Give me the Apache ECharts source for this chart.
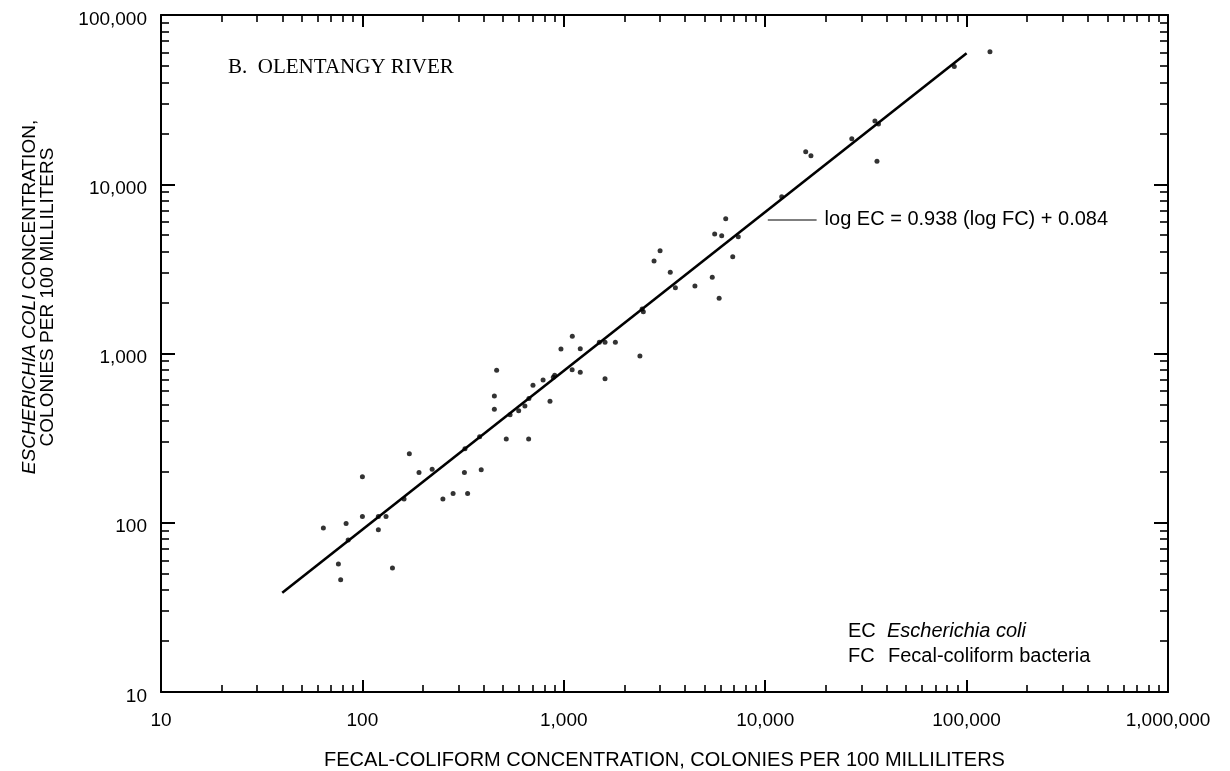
<!DOCTYPE html>
<html>
<head>
<meta charset="utf-8">
<script src="https://cdn.jsdelivr.net/npm/echarts@6/dist/echarts.min.js"></script>
<style>
html,body{margin:0;padding:0;background:#fff;}
#chart{width:1230px;height:771px;}
</style>
</head>
<body>
<div id="chart"></div>
<script>
// Fecal-coliform (x) and E. coli (y) concentrations, colonies per 100 mL
const fcValues = [64, 83, 85, 76, 78, 100, 100, 120, 120, 131, 141, 161, 171, 191, 222, 251, 282, 333, 321, 323,
  389, 382, 452, 518, 452, 464, 541, 597, 641, 671, 669, 703, 789, 854, 887, 901, 968, 1102, 1100, 1207,
  1207, 1501, 1602, 1803, 1602, 2388, 2482, 2450, 2806, 3006, 3378, 3581, 4478, 5459, 5906, 6899, 7350, 5612, 6081, 6368,
  12080, 15890, 16870, 35890, 26910, 35060, 36500, 86860, 130600];
const ecValues = [93, 99, 79, 57, 46, 187, 109, 109, 91, 109, 54, 138, 256, 198, 207, 138, 149, 149, 198, 274,
  206, 322, 468, 313, 561, 796, 435, 459, 490, 543, 313, 649, 697, 522, 723, 743, 1064, 1265, 802, 774,
  1067, 1164, 1164, 1164, 709, 966, 1767, 1833, 3524, 4045, 3018, 2448, 2507, 2818, 2118, 3733, 4894, 5078, 4963, 6262,
  8435, 15560, 14750, 13680, 18580, 23660, 22700, 49550, 60700];

// Regression line: log EC = 0.938 (log FC) + 0.084
const fitFC = [40, 100000];
const fitEC = [38.6, 59400];
// Leader line to equation label
const leaderFC = [10300, 18000];
const leaderEC = [6150, 6150];

const xTickLabels = [10, 100, 1000, 10000, 100000, 1000000];
const yTickLabels = [10, 100, 1000, 10000, 100000];
const minorSteps = [2, 3, 4, 5, 6, 7, 8, 9];

const equationText = 'log EC = 0.938 (log FC) + 0.084';
const panelTitle = 'B.  OLENTANGY RIVER';
const xTitle = 'FECAL-COLIFORM CONCENTRATION, COLONIES PER 100 MILLILITERS';

function minorTicks(decades) {
  const out = [];
  for (let i = 0; i < decades.length - 1; i++) {
    minorSteps.forEach(s => out.push(Math.log10(decades[i] * s)));
  }
  return out;
}
const fmt = v => String(Math.round(v)).replace(/\B(?=(\d{3})+(?!\d))/g, ',');

const FONT = "'Liberation Sans', Arial, Helvetica, sans-serif";
const SERIF = "'Liberation Serif', 'Times New Roman', serif";
const black = '#000';
const lineW = 2;

function majorAxis(min, max, position, showLabel, tickLen, labelOpts, extra) {
  return Object.assign({
    type: 'log', logBase: 10, min: min, max: max, position: position,
    axisLine: {show: true, onZero: false, lineStyle: {color: black, width: lineW}},
    axisTick: {show: true, inside: true, length: tickLen, lineStyle: {color: black, width: 2}},
    axisLabel: Object.assign({show: showLabel, color: black, fontSize: 19, fontFamily: FONT, formatter: fmt}, labelOpts || {}),
    splitLine: {show: false}, minorTick: {show: false}, minorSplitLine: {show: false}
  }, extra || {});
}
function minorAxis(min, max, position, vals, len) {
  return {
    type: 'value', min: min, max: max, position: position,
    axisLine: {show: false},
    axisTick: {show: true, inside: true, length: len, customValues: vals, lineStyle: {color: black, width: 1.6}},
    axisLabel: {show: false}, splitLine: {show: false}
  };
}

const xMinor = minorTicks(xTickLabels);
const yMinor = minorTicks(yTickLabels);

const chart = echarts.init(document.getElementById('chart'), null, {renderer: 'canvas'});
chart.setOption({
  animation: false,
  backgroundColor: '#fff',
  grid: {left: 161, right: 62, top: 15, bottom: 79, containLabel: false, outerBoundsMode: 'none'},
  xAxis: [
    majorAxis(10, 1000000, 'bottom', true, 12, {margin: 19}, {
      name: xTitle, nameLocation: 'middle', nameGap: 58,
      nameTextStyle: {color: black, fontSize: 20, fontFamily: FONT}
    }),
    minorAxis(1, 6, 'bottom', xMinor, 7),
    majorAxis(10, 1000000, 'top', false, 12),
    minorAxis(1, 6, 'top', xMinor, 7)
  ],
  yAxis: [
    majorAxis(10, 100000, 'left', true, 14, {
      margin: 14,
      formatter: v => '{a|' + fmt(v) + '}',
      rich: {a: {fontSize: 19, fontFamily: FONT, color: black, padding: [9, 0, 0, 0]}}
    }),
    minorAxis(1, 5, 'left', yMinor, 8),
    majorAxis(10, 100000, 'right', false, 14),
    minorAxis(1, 5, 'right', yMinor, 8)
  ],
  series: [
    {
      type: 'scatter', xAxisIndex: 0, yAxisIndex: 0,
      data: fcValues.map((v, i) => [v, ecValues[i]]),
      symbol: 'circle', symbolSize: 5,
      itemStyle: {color: black}, silent: true
    },
    {
      type: 'line', xAxisIndex: 0, yAxisIndex: 0,
      data: fitFC.map((v, i) => [v, fitEC[i]]),
      symbol: 'none', lineStyle: {color: black, width: 2.6}, silent: true
    },
    {
      type: 'line', xAxisIndex: 0, yAxisIndex: 0,
      data: leaderFC.map((v, i) => [v, leaderEC[i]]),
      symbol: 'none', lineStyle: {color: black, width: 1.2}, silent: true,
      endLabel: {show: true, formatter: equationText, distance: 8, color: black, fontSize: 20, fontFamily: FONT}
    }
  ],
  graphic: [
    {type: 'text', x: 228, y: 67, silent: true,
      style: {text: panelTitle, fill: black, font: '21px ' + SERIF, align: 'left', verticalAlign: 'middle'}},
    {type: 'text', x: 39, y: 297, rotation: Math.PI / 2, silent: true,
      style: {
        text: '{i|ESCHERICHIA COLI} CONCENTRATION,\nCOLONIES PER 100 MILLILITERS',
        fill: black, fontSize: 19, fontFamily: FONT, lineHeight: 18,
        align: 'center', verticalAlign: 'middle',
        rich: {i: {fontStyle: 'italic', fontSize: 19, fontFamily: FONT, lineHeight: 18, fill: black}}
      }},
    {type: 'text', x: 848, y: 631, silent: true,
      style: {text: 'EC', fill: black, font: '20px ' + FONT, verticalAlign: 'middle'}},
    {type: 'text', x: 887, y: 631, silent: true,
      style: {text: 'Escherichia coli', fill: black, font: 'italic 20px ' + FONT, verticalAlign: 'middle'}},
    {type: 'text', x: 848, y: 656, silent: true,
      style: {text: 'FC', fill: black, font: '20px ' + FONT, verticalAlign: 'middle'}},
    {type: 'text', x: 888, y: 656, silent: true,
      style: {text: 'Fecal-coliform bacteria', fill: black, font: '20px ' + FONT, verticalAlign: 'middle'}}
  ]
});
</script>
</body>
</html>
